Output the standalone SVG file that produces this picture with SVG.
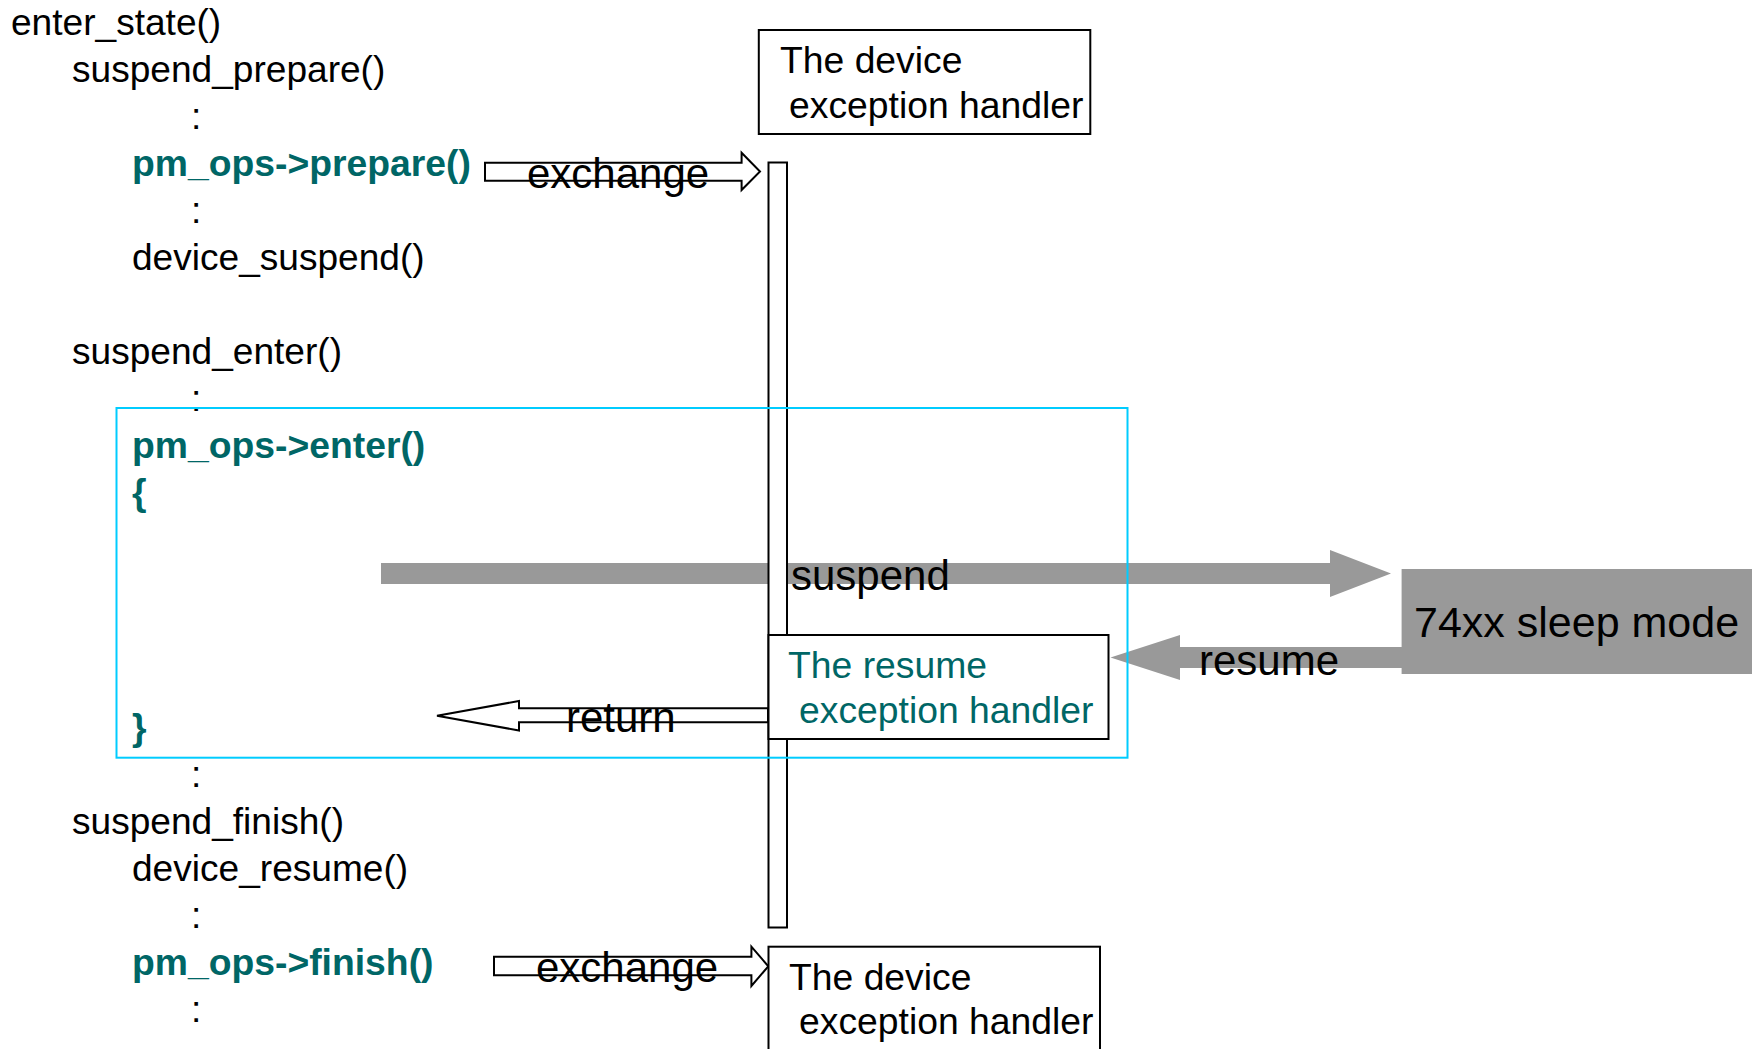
<svg xmlns="http://www.w3.org/2000/svg" width="1757" height="1049" viewBox="0 0 1757 1049">
  <style>
    text { font-family: "Liberation Sans", Arial, sans-serif; }
    .code { font-size: 37.1px; fill: #000000; }
    .op { font-size: 37.3px; font-weight: bold; fill: #006666; }
    .lbl { font-size: 42px; fill: #000000; }
    .box { fill: #ffffff; stroke: #000000; stroke-width: 2; }
    .hollow { fill: #ffffff; stroke: #000000; stroke-width: 2; stroke-linejoin: miter; }
    .gray { fill: #999999; stroke: none; }
    .boxtxt { font-size: 37.3px; fill: #000000; }
    .boxtxt-teal { font-size: 37.3px; fill: #006666; }
  </style>
  <rect x="0" y="0" width="1757" height="1049" fill="#ffffff"/>

  <g id="code">
    <text class="code" x="11" y="35">enter_state()</text>
    <text class="code" x="72" y="82">suspend_prepare()</text>
    <text class="code" x="191" y="129">:</text>
    <text class="op" x="132" y="176">pm_ops-&gt;prepare()</text>
    <text class="code" x="191" y="223">:</text>
    <text class="code" x="132" y="270">device_suspend()</text>
    <text class="code" x="72" y="364">suspend_enter()</text>
    <text class="code" x="191" y="411">:</text>
    <text class="op" x="132" y="458">pm_ops-&gt;enter()</text>
    <text class="op" x="132" y="505">{</text>
    <text class="op" x="132" y="740">}</text>
    <text class="code" x="191" y="787">:</text>
    <text class="code" x="72" y="834">suspend_finish()</text>
    <text class="code" x="132" y="881">device_resume()</text>
    <text class="code" x="191" y="928">:</text>
    <text class="op" x="132" y="975">pm_ops-&gt;finish()</text>
    <text class="code" x="191" y="1022">:</text>
  </g>

  <g id="connectors">
    <polygon id="suspend-arrow" class="gray" points="381,563 1330,563 1330,550 1391,573.5 1330,597 1330,584 381,584"/>
    <polygon id="resume-arrow" class="gray" points="1402,647 1180,647 1180,635 1110.5,657.5 1180,680 1180,668 1402,668"/>
    <polygon id="exchange-arrow-1" class="hollow" points="485,162.7 741.6,162.7 741.6,152.7 760,171.5 741.6,190 741.6,180.7 485,180.7"/>
    <polygon id="exchange-arrow-2" class="hollow" points="494,956.7 751.4,956.7 751.4,946.7 768.3,966.3 751.4,986 751.4,975.3 494,975.3"/>
    <polygon id="return-arrow" class="hollow" points="437,715.7 519,701 519,708.3 768,708.3 768,722.3 519,722.3 519,730.5"/>
  </g>

  <g id="lifeline">
    <rect class="box" x="768.5" y="162.5" width="18.5" height="765"/>
  </g>

  <g id="connector-labels">
    <text class="lbl" x="527" y="188">exchange</text>
    <text class="lbl" x="791" y="590">suspend</text>
    <text class="lbl" x="1199" y="675">resume</text>
    <text class="lbl" x="566" y="732">return</text>
    <text class="lbl" x="536" y="982">exchange</text>
  </g>

  <g id="device-handler-1">
    <rect class="box" x="758.8" y="30" width="331.5" height="104"/>
    <text class="boxtxt" x="780" y="73">The device</text>
    <text class="boxtxt" x="789" y="118">exception handler</text>
  </g>

  <g id="resume-handler">
    <rect class="box" x="768.5" y="635" width="340" height="104"/>
    <text class="boxtxt-teal" x="788" y="678">The resume</text>
    <text class="boxtxt-teal" x="799" y="723">exception handler</text>
  </g>

  <g id="device-handler-2">
    <rect class="box" x="768.5" y="946.7" width="331.5" height="120"/>
    <text class="boxtxt" x="789" y="990">The device</text>
    <text class="boxtxt" x="799" y="1034">exception handler</text>
  </g>

  <g id="sleep-mode">
    <rect class="gray" x="1401.6" y="569" width="350.4" height="105"/>
    <text class="lbl" x="1414" y="637" style="font-size:43px">74xx sleep mode</text>
  </g>

  <g id="enter-block">
    <rect x="116.5" y="408" width="1011" height="349.7" fill="none" stroke="#00CCFF" stroke-width="2"/>
  </g>
</svg>
